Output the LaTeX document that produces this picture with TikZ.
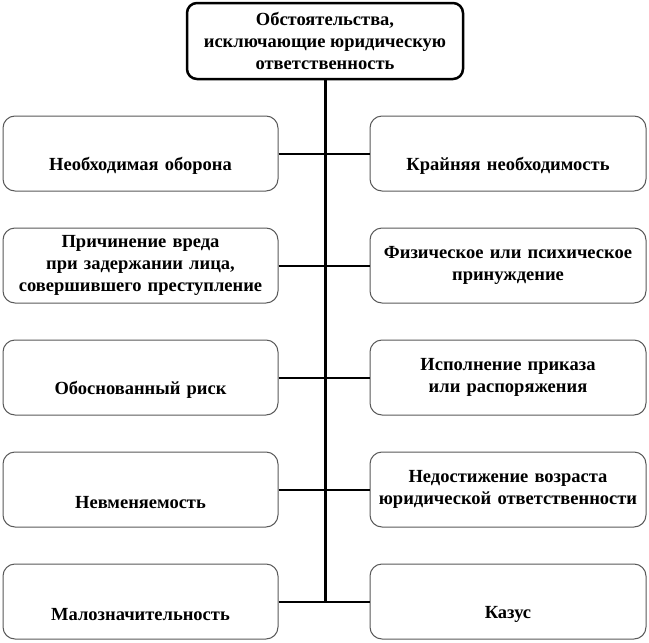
\documentclass[tikz,border=0pt]{standalone}
\usepackage{fontspec}
\setmainfont{Liberation Serif}
\usepackage{xcolor}
\definecolor{frame}{HTML}{595959}

\begin{document}
\begin{tikzpicture}[x=1pt,y=-1pt,
		box/.style={draw=frame,line width=1pt,rounded corners=12pt,fill=white,minimum height=75pt,align=center,inner sep=2pt,font=\bfseries\fontsize{18.5}{22}\selectfont},
		head/.style={box,draw=black,line width=2.5pt,rounded corners=10pt,minimum width=276pt,minimum height=76pt},
		lbox/.style={box,minimum width=275pt,text width=271pt},
		rbox/.style={box,minimum width=276pt,text width=272pt},
		link/.style={line width=2pt}]
	\useasboundingbox (0,0) rectangle (649,643);
	\coordinate (T) at (325,41);
	\coordinate (E) at (325,601.5);
	\node [head] (top) at (T) {Обстоятельства,\\исключающие юридическую\\ответственность};
	% left column
	\node [lbox] (L1) at (140.5,153.5) {\strut\\Необходимая оборона};
	\node [lbox] (L2) at (140.5,265.5) {Причинение вреда\\при задержании лица,\\совершившего преступление};
	\node [lbox] (L3) at (140.5,377.5) {\strut\\Обоснованный риск};
	\node [lbox] (L4) at (140.5,489.5) {\strut\\Невменяемость};
	\node [lbox] (L5) at (140.5,601.5) {\strut\\Малозначительность};
	% right column
	\node [rbox] (R1) at (508,153.5) {\strut\\Крайняя необходимость};
	\node [rbox] (R2) at (508,265.5) {Физическое или психическое\\принуждение};
	\node [rbox] (R3) at (508,377.5) {Исполнение приказа\\или распоряжения};
	\node [rbox] (R4) at (508,489.5) {Недостижение возраста\\юридической ответственности};
	\node [rbox] (R5) at (508,601.5) {\strut\\Казус};
	% connectors
	\draw [link] (L1.east) -- (R1.west);
	\draw [link] (L2.east) -- (R2.west);
	\draw [link] (L3.east) -- (R3.west);
	\draw [link] (L4.east) -- (R4.west);
	\draw [link] (L5.east) -- (R5.west);
	\draw [line width=3pt] (top.south) -- (E);
\end{tikzpicture}
\end{document}
